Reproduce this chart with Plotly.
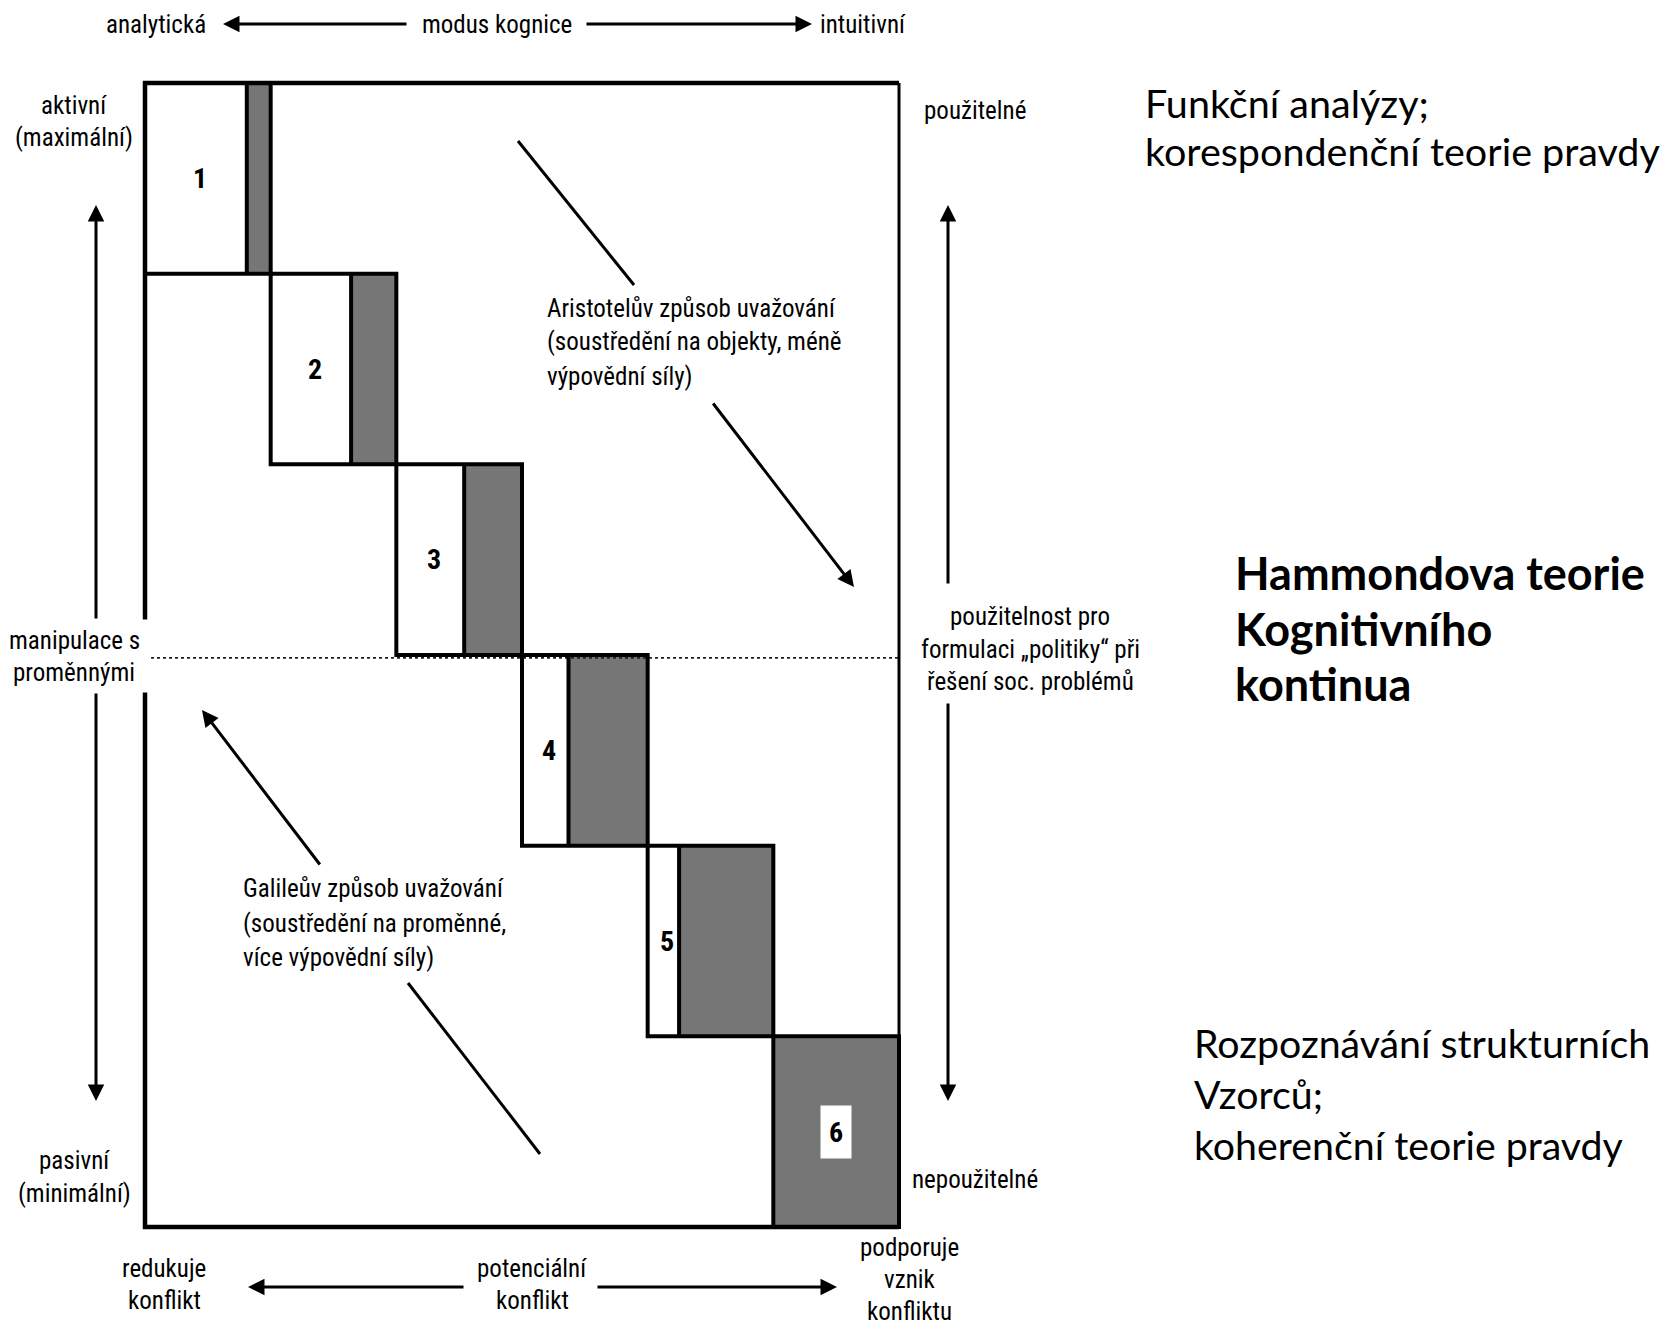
import plotly.graph_objects as go

# ---------------- data ----------------
boxes = ["1", "2", "3", "4", "5", "6"]
# share of the dark (intuitive) part of every box along the continuum
gray_share = [0.19, 0.36, 0.46, 0.63, 0.75, 1.00]

top_labels = ["analytická", "modus kognice", "intuitivní"]
left_labels = [["aktivní", "(maximální)"], ["manipulace s", "proměnnými"], ["pasivní", "(minimální)"]]
right_labels = [["použitelné"], ["použitelnost pro", "formulaci „politiky“ při", "řešení soc. problémů"], ["nepoužitelné"]]
bottom_labels = [["redukuje", "konflikt"], ["potenciální", "konflikt"], ["podporuje", "vznik", "konfliktu"]]
aristotle_text = ["Aristotelův způsob uvažování", "(soustředění na objekty, méně", "výpovědní síly)"]
galileo_text = ["Galileův způsob uvažování", "(soustředění na proměnné,", "více výpovědní síly)"]
block_top = ["Funkční analýzy;", "korespondenční teorie pravdy"]
block_mid = ["Hammondova teorie", "Kognitivního", "kontinua"]
block_bot = ["Rozpoznávání strukturních", "Vzorců;", "koherenční teorie pravdy"]

# ---------------- layout helpers ----------------
W, H = 1666, 1326
FX0, FX1, FY0, FY1 = 145, 899, 83, 1227  # frame in pixels
n = len(boxes)
kx = (FX1 - FX0) / n
ky = (FY1 - FY0) / n
xr = [-FX0 / kx, (W - FX0) / kx]
yr = [-(H - FY1) / ky, FY1 / ky]


def px(x):
    return x / W


def py(y):
    return 1 - y / H


NARROW = ("Liberation Sans Narrow, Arial Narrow, Noto Sans Condensed, Roboto Condensed, "
          "DejaVu Sans Condensed, Liberation Sans, sans-serif")
BIG = "Lato, Carlito, Open Sans, sans-serif"
GRAY = "#767676"
SMALL = 25

fig = go.Figure()
fig.add_trace(go.Scatter(x=[0, n], y=[0, n], mode="markers",
                         marker=dict(opacity=0), hoverinfo="skip", showlegend=False))

shapes = []
# gray parts
for i, g in enumerate(gray_share):
    x1 = i + 1
    xs = x1 - g
    y0, y1 = n - i - 1, n - i
    shapes.append(dict(type="rect", xref="x", yref="y", x0=xs, x1=x1, y0=y0, y1=y1,
                       fillcolor=GRAY, line=dict(color="#333", width=1), layer="above"))
# dotted middle line
shapes.append(dict(type="line", xref="x", yref="y", x0=0, x1=n, y0=n / 2 - 0.015, y1=n / 2 - 0.015,
                   line=dict(color="#222", width=1.6, dash="dot"), layer="above"))
# box outlines and dividers
for i, g in enumerate(gray_share):
    x0, x1 = i, i + 1
    xs = x1 - g
    y0, y1 = n - i - 1, n - i
    shapes.append(dict(type="rect", xref="x", yref="y", x0=x0, x1=x1, y0=y0, y1=y1,
                       line=dict(color="black", width=4), layer="above"))
    if 0 < g < 1:
        shapes.append(dict(type="line", xref="x", yref="y", x0=xs, x1=xs, y0=y0, y1=y1,
                           line=dict(color="black", width=4), layer="above"))
# frame: thick top/left/bottom, a bit thinner right side
shapes.append(dict(type="path", xref="x", yref="y",
                   path=f"M {n},0 L 0,0 L 0,{n} L {n},{n}",
                   line=dict(color="black", width=4.5), layer="above"))
shapes.append(dict(type="line", xref="x", yref="y", x0=n, x1=n, y0=0, y1=n,
                   line=dict(color="black", width=3), layer="above"))

# plain diagonal segments (no heads)
for (ax0, ay0, ax1, ay1) in [(518, 141, 634, 285), (408, 983, 540, 1154)]:
    shapes.append(dict(type="line", xref="paper", yref="paper", x0=px(ax0), y0=py(ay0),
                       x1=px(ax1), y1=py(ay1), line=dict(color="black", width=3)))

ann = []


def text(t, x, y, size=SMALL, family=NARROW, xanchor="center", bold=False, **kw):
    ann.append(dict(text=f"<b>{t}</b>" if bold else t, x=px(x), y=py(y), xref="paper", yref="paper",
                    xanchor=xanchor, yanchor="middle", showarrow=False,
                    font=dict(family=family, size=size, color="black"), **kw))


def lines(ls, x, ymid, step, **kw):
    k = len(ls)
    for j, t in enumerate(ls):
        text(t, x, ymid + (j - (k - 1) / 2) * step, **kw)


def arrow(hx, hy, tx, ty, width=3):
    ann.append(dict(text="", x=px(hx), y=py(hy), xref="paper", yref="paper",
                    ax=tx - hx, ay=ty - hy, axref="pixel", ayref="pixel",
                    showarrow=True, arrowhead=2, arrowsize=1.1, arrowwidth=width,
                    arrowcolor="black", standoff=0, startstandoff=0))


# top row
text(top_labels[0], 156, 24)
text(top_labels[1], 497, 24)
text(top_labels[2], 863, 24)
arrow(223, 24, 408, 24)
arrow(812, 24, 585, 24)

# left column
lines(left_labels[0], 74, 122, 32)
# white patch behind the middle label (breaks the frame as in the original)
ann.append(dict(text="", x=px(74), y=py(656), xref="paper", yref="paper", showarrow=False,
                xanchor="center", yanchor="middle", width=150, height=70, bgcolor="white"))
lines(left_labels[1], 74, 656, 32)
lines(left_labels[2], 74, 1177, 33)
arrow(96, 205, 96, 620)
arrow(96, 1101, 96, 692)

# right column
lines(right_labels[0], 975, 110, 33)
lines(right_labels[1], 1030, 649, 33)
lines(right_labels[2], 975, 1179, 33)
arrow(948, 205, 948, 585)
arrow(948, 1101, 948, 702)

# bottom row
lines(bottom_labels[0], 164, 1284, 32)
lines(bottom_labels[1], 532, 1284, 32)
lines(bottom_labels[2], 910, 1279, 32)
arrow(248, 1287, 465, 1287)
arrow(837, 1287, 596, 1287)

# diagonal explanations
lines(aristotle_text, 545, 342, 34, xanchor="left")
arrow(854, 587, 712, 402)
lines(galileo_text, 241, 923, 34, xanchor="left")
arrow(202, 710, 321, 866)

# box numbers
for i, (b, g) in enumerate(zip(boxes, gray_share)):
    white = 1 - g
    cx = i + (white / 2 + 0.03 if white > 0 else 0.5)
    cy = n - i - 0.5
    a = dict(text=f"<b>{b}</b>", x=cx, y=cy, xref="x", yref="y", showarrow=False,
             font=dict(family=NARROW, size=28, color="black"))
    if white == 0:
        a.update(bgcolor="white", width=28, height=50)
    ann.append(a)

# right-hand blocks
for t, y in zip(block_top, [103, 150]):
    text(t, 1143, y, size=39.5, family=BIG, xanchor="left")
for t, y in zip(block_mid, [573, 629, 684]):
    text(t, 1233, y, size=45, family=BIG, xanchor="left", bold=True)
for t, y in zip(block_bot, [1042, 1093, 1144]):
    text(t, 1192, y, size=39.3, family=BIG, xanchor="left")

fig.update_layout(
    width=W, height=H, margin=dict(l=0, r=0, t=0, b=0),
    paper_bgcolor="white", plot_bgcolor="white",
    xaxis=dict(range=xr, visible=False, fixedrange=True),
    yaxis=dict(range=yr, visible=False, fixedrange=True),
    shapes=shapes, annotations=ann, showlegend=False,
)
fig.write_html("out.html", config={"displayModeBar": False},
               post_script="document.body.style.margin='0';")
